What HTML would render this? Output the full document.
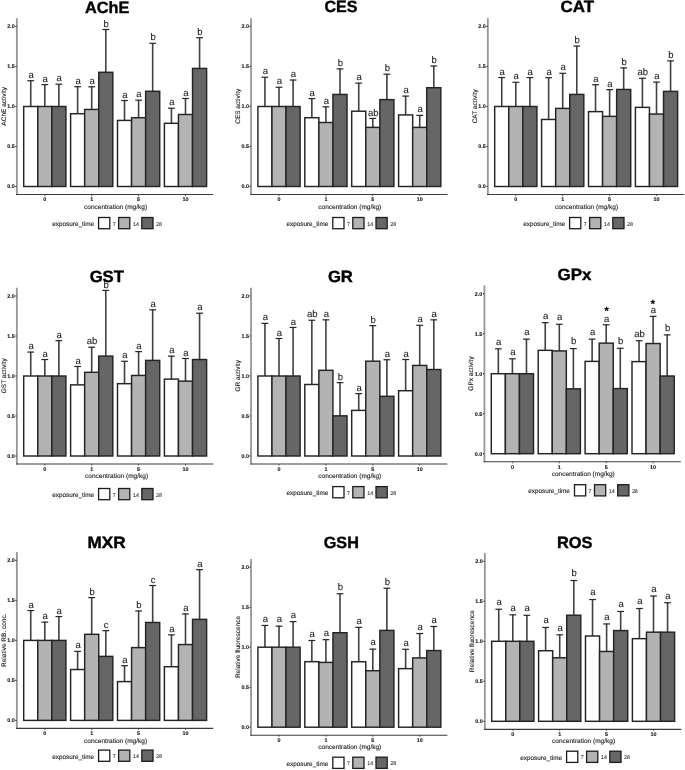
<!DOCTYPE html>
<html><head><meta charset="utf-8"><title>Biomarker activity charts</title>
<style>
html,body{margin:0;padding:0;background:#fff;}
body{width:685px;height:770px;overflow:hidden;}
svg{display:block;font-family:"Liberation Sans", sans-serif;filter:blur(0.3px);text-rendering:geometricPrecision;}
</style></head><body>
<svg width="685" height="770" viewBox="0 0 685 770">
<rect width="685" height="770" fill="#fff"/>
<g>
<text x="107.1" y="12.5" text-anchor="middle" font-size="16.3" font-weight="bold" fill="#000" stroke="#000" stroke-width="0.4" textLength="44.3" lengthAdjust="spacingAndGlyphs">AChE</text>
<path d="M16.85 18.2V195" fill="none" stroke="#969696" stroke-width="1.8"/>
<path d="M16 194.5H213.2" fill="none" stroke="#3c3c3c" stroke-width="1.15"/>
<path d="M15.4 186.5H16.5" stroke="#111" stroke-width="1.1"/>
<text x="14.7" y="188.45" text-anchor="end" font-size="5.4" font-weight="bold" fill="#111" stroke="#111" stroke-width="0.1">0.0</text>
<path d="M15.4 146.5H16.5" stroke="#111" stroke-width="1.1"/>
<text x="14.7" y="148.45" text-anchor="end" font-size="5.4" font-weight="bold" fill="#111" stroke="#111" stroke-width="0.1">0.5</text>
<path d="M15.4 106.5H16.5" stroke="#111" stroke-width="1.1"/>
<text x="14.7" y="108.45" text-anchor="end" font-size="5.4" font-weight="bold" fill="#111" stroke="#111" stroke-width="0.1">1.0</text>
<path d="M15.4 66.5H16.5" stroke="#111" stroke-width="1.1"/>
<text x="14.7" y="68.45" text-anchor="end" font-size="5.4" font-weight="bold" fill="#111" stroke="#111" stroke-width="0.1">1.5</text>
<path d="M15.4 26.5H16.5" stroke="#111" stroke-width="1.1"/>
<text x="14.7" y="28.45" text-anchor="end" font-size="5.4" font-weight="bold" fill="#111" stroke="#111" stroke-width="0.1">2.0</text>
<text transform="translate(5.7 106.3) rotate(-90)" text-anchor="middle" font-size="6.5" fill="#222" stroke="#222" stroke-width="0.12">AChE activity</text>
<path d="M30.74 106.5V80.4" stroke="#404040" stroke-width="1.6" fill="none"/><path d="M27.34 80.7H34.14" stroke="#262626" stroke-width="1.2" fill="none"/>
<rect x="23.7" y="106.5" width="14.07" height="80" fill="#ffffff" stroke="#242424" stroke-width="1.45"/>
<text x="31.14" y="77.8" text-anchor="middle" font-size="9.5" fill="#1a1a1a" stroke="#1a1a1a" stroke-width="0.1">a</text>
<path d="M44.81 106.5V84.28" stroke="#404040" stroke-width="1.6" fill="none"/><path d="M41.41 84.58H48.21" stroke="#262626" stroke-width="1.2" fill="none"/>
<rect x="37.77" y="106.5" width="14.07" height="80" fill="#b3b3b3" stroke="#242424" stroke-width="1.45"/>
<text x="45.21" y="81.68" text-anchor="middle" font-size="9.5" fill="#1a1a1a" stroke="#1a1a1a" stroke-width="0.1">a</text>
<path d="M58.88 106.5V83.88" stroke="#404040" stroke-width="1.6" fill="none"/><path d="M55.48 84.18H62.27" stroke="#262626" stroke-width="1.2" fill="none"/>
<rect x="51.84" y="106.5" width="14.07" height="80" fill="#666666" stroke="#242424" stroke-width="1.45"/>
<text x="59.27" y="81.28" text-anchor="middle" font-size="9.5" fill="#1a1a1a" stroke="#1a1a1a" stroke-width="0.1">a</text>
<path d="M77.63 113.7V86.4" stroke="#404040" stroke-width="1.6" fill="none"/><path d="M74.23 86.7H81.03" stroke="#262626" stroke-width="1.2" fill="none"/>
<rect x="70.6" y="113.7" width="14.07" height="72.8" fill="#ffffff" stroke="#242424" stroke-width="1.45"/>
<text x="78.03" y="83.8" text-anchor="middle" font-size="9.5" fill="#1a1a1a" stroke="#1a1a1a" stroke-width="0.1">a</text>
<path d="M91.7 109.46V86.52" stroke="#404040" stroke-width="1.6" fill="none"/><path d="M88.3 86.82H95.1" stroke="#262626" stroke-width="1.2" fill="none"/>
<rect x="84.67" y="109.46" width="14.07" height="77.04" fill="#b3b3b3" stroke="#242424" stroke-width="1.45"/>
<text x="92.1" y="83.92" text-anchor="middle" font-size="9.5" fill="#1a1a1a" stroke="#1a1a1a" stroke-width="0.1">a</text>
<path d="M105.77 72.3V29.2" stroke="#404040" stroke-width="1.6" fill="none"/><path d="M102.37 29.5H109.17" stroke="#262626" stroke-width="1.2" fill="none"/>
<rect x="98.74" y="72.3" width="14.07" height="114.2" fill="#666666" stroke="#242424" stroke-width="1.45"/>
<text x="106.17" y="26.6" text-anchor="middle" font-size="9.5" fill="#1a1a1a" stroke="#1a1a1a" stroke-width="0.1">b</text>
<path d="M124.53 120.42V100.2" stroke="#404040" stroke-width="1.6" fill="none"/><path d="M121.13 100.5H127.94" stroke="#262626" stroke-width="1.2" fill="none"/>
<rect x="117.5" y="120.42" width="14.07" height="66.08" fill="#ffffff" stroke="#242424" stroke-width="1.45"/>
<text x="124.94" y="97.6" text-anchor="middle" font-size="9.5" fill="#1a1a1a" stroke="#1a1a1a" stroke-width="0.1">a</text>
<path d="M138.6 117.7V99.88" stroke="#404040" stroke-width="1.6" fill="none"/><path d="M135.2 100.18H142" stroke="#262626" stroke-width="1.2" fill="none"/>
<rect x="131.57" y="117.7" width="14.07" height="68.8" fill="#b3b3b3" stroke="#242424" stroke-width="1.45"/>
<text x="139" y="97.28" text-anchor="middle" font-size="9.5" fill="#1a1a1a" stroke="#1a1a1a" stroke-width="0.1">a</text>
<path d="M152.67 91.3V43" stroke="#404040" stroke-width="1.6" fill="none"/><path d="M149.27 43.3H156.07" stroke="#262626" stroke-width="1.2" fill="none"/>
<rect x="145.64" y="91.3" width="14.07" height="95.2" fill="#666666" stroke="#242424" stroke-width="1.45"/>
<text x="153.07" y="40.4" text-anchor="middle" font-size="9.5" fill="#1a1a1a" stroke="#1a1a1a" stroke-width="0.1">b</text>
<path d="M171.43 123.3V107.96" stroke="#404040" stroke-width="1.6" fill="none"/><path d="M168.03 108.26H174.83" stroke="#262626" stroke-width="1.2" fill="none"/>
<rect x="164.4" y="123.3" width="14.07" height="63.2" fill="#ffffff" stroke="#242424" stroke-width="1.45"/>
<text x="171.83" y="105.36" text-anchor="middle" font-size="9.5" fill="#1a1a1a" stroke="#1a1a1a" stroke-width="0.1">a</text>
<path d="M185.5 114.5V98.2" stroke="#404040" stroke-width="1.6" fill="none"/><path d="M182.1 98.5H188.9" stroke="#262626" stroke-width="1.2" fill="none"/>
<rect x="178.47" y="114.5" width="14.07" height="72" fill="#b3b3b3" stroke="#242424" stroke-width="1.45"/>
<text x="185.9" y="95.6" text-anchor="middle" font-size="9.5" fill="#1a1a1a" stroke="#1a1a1a" stroke-width="0.1">a</text>
<path d="M199.57 68.42V37.4" stroke="#404040" stroke-width="1.6" fill="none"/><path d="M196.17 37.7H202.97" stroke="#262626" stroke-width="1.2" fill="none"/>
<rect x="192.54" y="68.42" width="14.07" height="118.08" fill="#666666" stroke="#242424" stroke-width="1.45"/>
<text x="199.97" y="34.8" text-anchor="middle" font-size="9.5" fill="#1a1a1a" stroke="#1a1a1a" stroke-width="0.1">b</text>
<path d="M44.81 194.5V196.1" stroke="#222" stroke-width="0.7"/>
<text x="44.81" y="201.4" text-anchor="middle" font-size="5.4" font-weight="bold" fill="#111" stroke="#111" stroke-width="0.1">0</text>
<path d="M91.7 194.5V196.1" stroke="#222" stroke-width="0.7"/>
<text x="91.7" y="201.4" text-anchor="middle" font-size="5.4" font-weight="bold" fill="#111" stroke="#111" stroke-width="0.1">1</text>
<path d="M138.6 194.5V196.1" stroke="#222" stroke-width="0.7"/>
<text x="138.6" y="201.4" text-anchor="middle" font-size="5.4" font-weight="bold" fill="#111" stroke="#111" stroke-width="0.1">5</text>
<path d="M185.5 194.5V196.1" stroke="#222" stroke-width="0.7"/>
<text x="185.5" y="201.4" text-anchor="middle" font-size="5.4" font-weight="bold" fill="#111" stroke="#111" stroke-width="0.1">10</text>
<text x="115.6" y="209" text-anchor="middle" font-size="6.52" fill="#222" stroke="#222" stroke-width="0.12">concentration (mg/kg)</text>
<text x="52.3" y="226" font-size="6.36" fill="#222" stroke="#222" stroke-width="0.12">exposure_time</text>
<rect x="98.6" y="217.5" width="11.2" height="11.2" fill="#ffffff" stroke="#1c1c1c" stroke-width="1.3"/>
<text x="112.7" y="225.5" font-size="5.3" fill="#333" stroke="#333" stroke-width="0.08">7</text>
<rect x="118.6" y="217.5" width="11.2" height="11.2" fill="#b3b3b3" stroke="#1c1c1c" stroke-width="1.3"/>
<text x="133" y="225.5" font-size="5.3" fill="#333" stroke="#333" stroke-width="0.08">14</text>
<rect x="141.8" y="217.5" width="11.2" height="11.2" fill="#666666" stroke="#1c1c1c" stroke-width="1.3"/>
<text x="156" y="225.5" font-size="5.3" fill="#333" stroke="#333" stroke-width="0.08">28</text>
</g>
<g>
<text x="341" y="12.2" text-anchor="middle" font-size="16.3" font-weight="bold" fill="#000" stroke="#000" stroke-width="0.4" textLength="33" lengthAdjust="spacingAndGlyphs">CES</text>
<path d="M251.05 18.2V195" fill="none" stroke="#969696" stroke-width="1.8"/>
<path d="M250.2 194.5H447.4" fill="none" stroke="#3c3c3c" stroke-width="1.15"/>
<path d="M249.6 186.5H250.7" stroke="#111" stroke-width="1.1"/>
<text x="248.9" y="188.45" text-anchor="end" font-size="5.4" font-weight="bold" fill="#111" stroke="#111" stroke-width="0.1">0.0</text>
<path d="M249.6 146.5H250.7" stroke="#111" stroke-width="1.1"/>
<text x="248.9" y="148.45" text-anchor="end" font-size="5.4" font-weight="bold" fill="#111" stroke="#111" stroke-width="0.1">0.5</text>
<path d="M249.6 106.5H250.7" stroke="#111" stroke-width="1.1"/>
<text x="248.9" y="108.45" text-anchor="end" font-size="5.4" font-weight="bold" fill="#111" stroke="#111" stroke-width="0.1">1.0</text>
<path d="M249.6 66.5H250.7" stroke="#111" stroke-width="1.1"/>
<text x="248.9" y="68.45" text-anchor="end" font-size="5.4" font-weight="bold" fill="#111" stroke="#111" stroke-width="0.1">1.5</text>
<path d="M249.6 26.5H250.7" stroke="#111" stroke-width="1.1"/>
<text x="248.9" y="28.45" text-anchor="end" font-size="5.4" font-weight="bold" fill="#111" stroke="#111" stroke-width="0.1">2.0</text>
<text transform="translate(239.9 106.3) rotate(-90)" text-anchor="middle" font-size="6.5" fill="#222" stroke="#222" stroke-width="0.12">CES activity</text>
<path d="M264.94 106.5V76.92" stroke="#404040" stroke-width="1.6" fill="none"/><path d="M261.54 77.22H268.34" stroke="#262626" stroke-width="1.2" fill="none"/>
<rect x="257.9" y="106.5" width="14.07" height="80" fill="#ffffff" stroke="#242424" stroke-width="1.45"/>
<text x="265.34" y="74.32" text-anchor="middle" font-size="9.5" fill="#1a1a1a" stroke="#1a1a1a" stroke-width="0.1">a</text>
<path d="M279.01 106.5V86.92" stroke="#404040" stroke-width="1.6" fill="none"/><path d="M275.61 87.22H282.41" stroke="#262626" stroke-width="1.2" fill="none"/>
<rect x="271.97" y="106.5" width="14.07" height="80" fill="#b3b3b3" stroke="#242424" stroke-width="1.45"/>
<text x="279.41" y="84.32" text-anchor="middle" font-size="9.5" fill="#1a1a1a" stroke="#1a1a1a" stroke-width="0.1">a</text>
<path d="M293.08 106.5V79.72" stroke="#404040" stroke-width="1.6" fill="none"/><path d="M289.68 80.02H296.48" stroke="#262626" stroke-width="1.2" fill="none"/>
<rect x="286.04" y="106.5" width="14.07" height="80" fill="#666666" stroke="#242424" stroke-width="1.45"/>
<text x="293.48" y="77.12" text-anchor="middle" font-size="9.5" fill="#1a1a1a" stroke="#1a1a1a" stroke-width="0.1">a</text>
<path d="M311.84 117.7V98.28" stroke="#404040" stroke-width="1.6" fill="none"/><path d="M308.44 98.58H315.24" stroke="#262626" stroke-width="1.2" fill="none"/>
<rect x="304.8" y="117.7" width="14.07" height="68.8" fill="#ffffff" stroke="#242424" stroke-width="1.45"/>
<text x="312.24" y="95.68" text-anchor="middle" font-size="9.5" fill="#1a1a1a" stroke="#1a1a1a" stroke-width="0.1">a</text>
<path d="M325.91 122.5V106.52" stroke="#404040" stroke-width="1.6" fill="none"/><path d="M322.51 106.82H329.31" stroke="#262626" stroke-width="1.2" fill="none"/>
<rect x="318.87" y="122.5" width="14.07" height="64" fill="#b3b3b3" stroke="#242424" stroke-width="1.45"/>
<text x="326.31" y="103.92" text-anchor="middle" font-size="9.5" fill="#1a1a1a" stroke="#1a1a1a" stroke-width="0.1">a</text>
<path d="M339.98 94.42V68.6" stroke="#404040" stroke-width="1.6" fill="none"/><path d="M336.58 68.9H343.38" stroke="#262626" stroke-width="1.2" fill="none"/>
<rect x="332.94" y="94.42" width="14.07" height="92.08" fill="#666666" stroke="#242424" stroke-width="1.45"/>
<text x="340.38" y="66" text-anchor="middle" font-size="9.5" fill="#1a1a1a" stroke="#1a1a1a" stroke-width="0.1">b</text>
<path d="M358.74 111.22V82.84" stroke="#404040" stroke-width="1.6" fill="none"/><path d="M355.34 83.14H362.14" stroke="#262626" stroke-width="1.2" fill="none"/>
<rect x="351.7" y="111.22" width="14.07" height="75.28" fill="#ffffff" stroke="#242424" stroke-width="1.45"/>
<text x="359.14" y="80.24" text-anchor="middle" font-size="9.5" fill="#1a1a1a" stroke="#1a1a1a" stroke-width="0.1">a</text>
<path d="M372.81 127.38V118.12" stroke="#404040" stroke-width="1.6" fill="none"/><path d="M369.41 118.42H376.21" stroke="#262626" stroke-width="1.2" fill="none"/>
<rect x="365.77" y="127.38" width="14.07" height="59.12" fill="#b3b3b3" stroke="#242424" stroke-width="1.45"/>
<text x="373.21" y="115.52" text-anchor="middle" font-size="9.5" fill="#1a1a1a" stroke="#1a1a1a" stroke-width="0.1">ab</text>
<path d="M386.88 99.62V73.88" stroke="#404040" stroke-width="1.6" fill="none"/><path d="M383.48 74.18H390.28" stroke="#262626" stroke-width="1.2" fill="none"/>
<rect x="379.84" y="99.62" width="14.07" height="86.88" fill="#666666" stroke="#242424" stroke-width="1.45"/>
<text x="387.28" y="71.28" text-anchor="middle" font-size="9.5" fill="#1a1a1a" stroke="#1a1a1a" stroke-width="0.1">b</text>
<path d="M405.64 114.9V95.8" stroke="#404040" stroke-width="1.6" fill="none"/><path d="M402.24 96.1H409.04" stroke="#262626" stroke-width="1.2" fill="none"/>
<rect x="398.6" y="114.9" width="14.07" height="71.6" fill="#ffffff" stroke="#242424" stroke-width="1.45"/>
<text x="406.04" y="93.2" text-anchor="middle" font-size="9.5" fill="#1a1a1a" stroke="#1a1a1a" stroke-width="0.1">a</text>
<path d="M419.71 127.38V115.08" stroke="#404040" stroke-width="1.6" fill="none"/><path d="M416.31 115.38H423.11" stroke="#262626" stroke-width="1.2" fill="none"/>
<rect x="412.67" y="127.38" width="14.07" height="59.12" fill="#b3b3b3" stroke="#242424" stroke-width="1.45"/>
<text x="420.11" y="112.48" text-anchor="middle" font-size="9.5" fill="#1a1a1a" stroke="#1a1a1a" stroke-width="0.1">a</text>
<path d="M433.78 87.7V65.72" stroke="#404040" stroke-width="1.6" fill="none"/><path d="M430.38 66.02H437.18" stroke="#262626" stroke-width="1.2" fill="none"/>
<rect x="426.74" y="87.7" width="14.07" height="98.8" fill="#666666" stroke="#242424" stroke-width="1.45"/>
<text x="434.18" y="63.12" text-anchor="middle" font-size="9.5" fill="#1a1a1a" stroke="#1a1a1a" stroke-width="0.1">b</text>
<path d="M279.01 194.5V196.1" stroke="#222" stroke-width="0.7"/>
<text x="279.01" y="201.4" text-anchor="middle" font-size="5.4" font-weight="bold" fill="#111" stroke="#111" stroke-width="0.1">0</text>
<path d="M325.91 194.5V196.1" stroke="#222" stroke-width="0.7"/>
<text x="325.91" y="201.4" text-anchor="middle" font-size="5.4" font-weight="bold" fill="#111" stroke="#111" stroke-width="0.1">1</text>
<path d="M372.81 194.5V196.1" stroke="#222" stroke-width="0.7"/>
<text x="372.81" y="201.4" text-anchor="middle" font-size="5.4" font-weight="bold" fill="#111" stroke="#111" stroke-width="0.1">5</text>
<path d="M419.71 194.5V196.1" stroke="#222" stroke-width="0.7"/>
<text x="419.71" y="201.4" text-anchor="middle" font-size="5.4" font-weight="bold" fill="#111" stroke="#111" stroke-width="0.1">10</text>
<text x="349.8" y="209" text-anchor="middle" font-size="6.52" fill="#222" stroke="#222" stroke-width="0.12">concentration (mg/kg)</text>
<text x="286.5" y="226" font-size="6.36" fill="#222" stroke="#222" stroke-width="0.12">exposure_time</text>
<rect x="332.8" y="217.5" width="11.2" height="11.2" fill="#ffffff" stroke="#1c1c1c" stroke-width="1.3"/>
<text x="346.9" y="225.5" font-size="5.3" fill="#333" stroke="#333" stroke-width="0.08">7</text>
<rect x="352.8" y="217.5" width="11.2" height="11.2" fill="#b3b3b3" stroke="#1c1c1c" stroke-width="1.3"/>
<text x="367.2" y="225.5" font-size="5.3" fill="#333" stroke="#333" stroke-width="0.08">14</text>
<rect x="376" y="217.5" width="11.2" height="11.2" fill="#666666" stroke="#1c1c1c" stroke-width="1.3"/>
<text x="390.2" y="225.5" font-size="5.3" fill="#333" stroke="#333" stroke-width="0.08">28</text>
</g>
<g>
<text x="577.3" y="12.1" text-anchor="middle" font-size="16.3" font-weight="bold" fill="#000" stroke="#000" stroke-width="0.4" textLength="33.6" lengthAdjust="spacingAndGlyphs">CAT</text>
<path d="M487.85 18.2V195" fill="none" stroke="#969696" stroke-width="1.8"/>
<path d="M487 194.5H684.2" fill="none" stroke="#3c3c3c" stroke-width="1.15"/>
<path d="M486.4 186.5H487.5" stroke="#111" stroke-width="1.1"/>
<text x="485.7" y="188.45" text-anchor="end" font-size="5.4" font-weight="bold" fill="#111" stroke="#111" stroke-width="0.1">0.0</text>
<path d="M486.4 146.5H487.5" stroke="#111" stroke-width="1.1"/>
<text x="485.7" y="148.45" text-anchor="end" font-size="5.4" font-weight="bold" fill="#111" stroke="#111" stroke-width="0.1">0.5</text>
<path d="M486.4 106.5H487.5" stroke="#111" stroke-width="1.1"/>
<text x="485.7" y="108.45" text-anchor="end" font-size="5.4" font-weight="bold" fill="#111" stroke="#111" stroke-width="0.1">1.0</text>
<path d="M486.4 66.5H487.5" stroke="#111" stroke-width="1.1"/>
<text x="485.7" y="68.45" text-anchor="end" font-size="5.4" font-weight="bold" fill="#111" stroke="#111" stroke-width="0.1">1.5</text>
<path d="M486.4 26.5H487.5" stroke="#111" stroke-width="1.1"/>
<text x="485.7" y="28.45" text-anchor="end" font-size="5.4" font-weight="bold" fill="#111" stroke="#111" stroke-width="0.1">2.0</text>
<text transform="translate(476.7 106.3) rotate(-90)" text-anchor="middle" font-size="6.5" fill="#222" stroke="#222" stroke-width="0.12">CAT activity</text>
<path d="M501.74 106.5V77.24" stroke="#404040" stroke-width="1.6" fill="none"/><path d="M498.34 77.54H505.14" stroke="#262626" stroke-width="1.2" fill="none"/>
<rect x="494.7" y="106.5" width="14.07" height="80" fill="#ffffff" stroke="#242424" stroke-width="1.45"/>
<text x="502.14" y="74.64" text-anchor="middle" font-size="9.5" fill="#1a1a1a" stroke="#1a1a1a" stroke-width="0.1">a</text>
<path d="M515.81 106.5V81.96" stroke="#404040" stroke-width="1.6" fill="none"/><path d="M512.41 82.26H519.21" stroke="#262626" stroke-width="1.2" fill="none"/>
<rect x="508.77" y="106.5" width="14.07" height="80" fill="#b3b3b3" stroke="#242424" stroke-width="1.45"/>
<text x="516.21" y="79.36" text-anchor="middle" font-size="9.5" fill="#1a1a1a" stroke="#1a1a1a" stroke-width="0.1">a</text>
<path d="M529.88 106.5V77.24" stroke="#404040" stroke-width="1.6" fill="none"/><path d="M526.48 77.54H533.27" stroke="#262626" stroke-width="1.2" fill="none"/>
<rect x="522.84" y="106.5" width="14.07" height="80" fill="#666666" stroke="#242424" stroke-width="1.45"/>
<text x="530.27" y="74.64" text-anchor="middle" font-size="9.5" fill="#1a1a1a" stroke="#1a1a1a" stroke-width="0.1">a</text>
<path d="M548.63 119.46V77.4" stroke="#404040" stroke-width="1.6" fill="none"/><path d="M545.24 77.7H552.03" stroke="#262626" stroke-width="1.2" fill="none"/>
<rect x="541.6" y="119.46" width="14.07" height="67.04" fill="#ffffff" stroke="#242424" stroke-width="1.45"/>
<text x="549.03" y="74.8" text-anchor="middle" font-size="9.5" fill="#1a1a1a" stroke="#1a1a1a" stroke-width="0.1">a</text>
<path d="M562.71 108.42V73" stroke="#404040" stroke-width="1.6" fill="none"/><path d="M559.31 73.3H566.11" stroke="#262626" stroke-width="1.2" fill="none"/>
<rect x="555.67" y="108.42" width="14.07" height="78.08" fill="#b3b3b3" stroke="#242424" stroke-width="1.45"/>
<text x="563.11" y="70.4" text-anchor="middle" font-size="9.5" fill="#1a1a1a" stroke="#1a1a1a" stroke-width="0.1">a</text>
<path d="M576.77 94.42V45.8" stroke="#404040" stroke-width="1.6" fill="none"/><path d="M573.38 46.1H580.17" stroke="#262626" stroke-width="1.2" fill="none"/>
<rect x="569.74" y="94.42" width="14.07" height="92.08" fill="#666666" stroke="#242424" stroke-width="1.45"/>
<text x="577.17" y="43.2" text-anchor="middle" font-size="9.5" fill="#1a1a1a" stroke="#1a1a1a" stroke-width="0.1">b</text>
<path d="M595.53 111.62V84.44" stroke="#404040" stroke-width="1.6" fill="none"/><path d="M592.13 84.74H598.93" stroke="#262626" stroke-width="1.2" fill="none"/>
<rect x="588.5" y="111.62" width="14.07" height="74.88" fill="#ffffff" stroke="#242424" stroke-width="1.45"/>
<text x="595.93" y="81.84" text-anchor="middle" font-size="9.5" fill="#1a1a1a" stroke="#1a1a1a" stroke-width="0.1">a</text>
<path d="M609.61 116.34V89.32" stroke="#404040" stroke-width="1.6" fill="none"/><path d="M606.21 89.62H613" stroke="#262626" stroke-width="1.2" fill="none"/>
<rect x="602.57" y="116.34" width="14.07" height="70.16" fill="#b3b3b3" stroke="#242424" stroke-width="1.45"/>
<text x="610" y="86.72" text-anchor="middle" font-size="9.5" fill="#1a1a1a" stroke="#1a1a1a" stroke-width="0.1">a</text>
<path d="M623.67 89.46V67.56" stroke="#404040" stroke-width="1.6" fill="none"/><path d="M620.27 67.86H627.07" stroke="#262626" stroke-width="1.2" fill="none"/>
<rect x="616.64" y="89.46" width="14.07" height="97.04" fill="#666666" stroke="#242424" stroke-width="1.45"/>
<text x="624.07" y="64.96" text-anchor="middle" font-size="9.5" fill="#1a1a1a" stroke="#1a1a1a" stroke-width="0.1">b</text>
<path d="M642.44 107.38V77.96" stroke="#404040" stroke-width="1.6" fill="none"/><path d="M639.04 78.26H645.84" stroke="#262626" stroke-width="1.2" fill="none"/>
<rect x="635.4" y="107.38" width="14.07" height="79.12" fill="#ffffff" stroke="#242424" stroke-width="1.45"/>
<text x="642.84" y="75.36" text-anchor="middle" font-size="9.5" fill="#1a1a1a" stroke="#1a1a1a" stroke-width="0.1">ab</text>
<path d="M656.51 114.02V81.8" stroke="#404040" stroke-width="1.6" fill="none"/><path d="M653.11 82.1H659.91" stroke="#262626" stroke-width="1.2" fill="none"/>
<rect x="649.47" y="114.02" width="14.07" height="72.48" fill="#b3b3b3" stroke="#242424" stroke-width="1.45"/>
<text x="656.91" y="79.2" text-anchor="middle" font-size="9.5" fill="#1a1a1a" stroke="#1a1a1a" stroke-width="0.1">a</text>
<path d="M670.58 91.38V60.6" stroke="#404040" stroke-width="1.6" fill="none"/><path d="M667.18 60.9H673.98" stroke="#262626" stroke-width="1.2" fill="none"/>
<rect x="663.54" y="91.38" width="14.07" height="95.12" fill="#666666" stroke="#242424" stroke-width="1.45"/>
<text x="670.98" y="58" text-anchor="middle" font-size="9.5" fill="#1a1a1a" stroke="#1a1a1a" stroke-width="0.1">b</text>
<path d="M515.81 194.5V196.1" stroke="#222" stroke-width="0.7"/>
<text x="515.81" y="201.4" text-anchor="middle" font-size="5.4" font-weight="bold" fill="#111" stroke="#111" stroke-width="0.1">0</text>
<path d="M562.71 194.5V196.1" stroke="#222" stroke-width="0.7"/>
<text x="562.71" y="201.4" text-anchor="middle" font-size="5.4" font-weight="bold" fill="#111" stroke="#111" stroke-width="0.1">1</text>
<path d="M609.61 194.5V196.1" stroke="#222" stroke-width="0.7"/>
<text x="609.61" y="201.4" text-anchor="middle" font-size="5.4" font-weight="bold" fill="#111" stroke="#111" stroke-width="0.1">5</text>
<path d="M656.51 194.5V196.1" stroke="#222" stroke-width="0.7"/>
<text x="656.51" y="201.4" text-anchor="middle" font-size="5.4" font-weight="bold" fill="#111" stroke="#111" stroke-width="0.1">10</text>
<text x="586.6" y="209" text-anchor="middle" font-size="6.52" fill="#222" stroke="#222" stroke-width="0.12">concentration (mg/kg)</text>
<text x="523.3" y="226" font-size="6.36" fill="#222" stroke="#222" stroke-width="0.12">exposure_time</text>
<rect x="569.6" y="217.5" width="11.2" height="11.2" fill="#ffffff" stroke="#1c1c1c" stroke-width="1.3"/>
<text x="583.7" y="225.5" font-size="5.3" fill="#333" stroke="#333" stroke-width="0.08">7</text>
<rect x="589.6" y="217.5" width="11.2" height="11.2" fill="#b3b3b3" stroke="#1c1c1c" stroke-width="1.3"/>
<text x="604" y="225.5" font-size="5.3" fill="#333" stroke="#333" stroke-width="0.08">14</text>
<rect x="612.8" y="217.5" width="11.2" height="11.2" fill="#666666" stroke="#1c1c1c" stroke-width="1.3"/>
<text x="627" y="225.5" font-size="5.3" fill="#333" stroke="#333" stroke-width="0.08">28</text>
</g>
<g>
<text x="106.8" y="281.8" text-anchor="middle" font-size="16.3" font-weight="bold" fill="#000" stroke="#000" stroke-width="0.4" textLength="34.3" lengthAdjust="spacingAndGlyphs">GST</text>
<path d="M16.85 287.7V464.5" fill="none" stroke="#969696" stroke-width="1.8"/>
<path d="M16 464H213.2" fill="none" stroke="#3c3c3c" stroke-width="1.15"/>
<path d="M15.4 456H16.5" stroke="#111" stroke-width="1.1"/>
<text x="14.7" y="457.95" text-anchor="end" font-size="5.4" font-weight="bold" fill="#111" stroke="#111" stroke-width="0.1">0.0</text>
<path d="M15.4 416H16.5" stroke="#111" stroke-width="1.1"/>
<text x="14.7" y="417.95" text-anchor="end" font-size="5.4" font-weight="bold" fill="#111" stroke="#111" stroke-width="0.1">0.5</text>
<path d="M15.4 376H16.5" stroke="#111" stroke-width="1.1"/>
<text x="14.7" y="377.95" text-anchor="end" font-size="5.4" font-weight="bold" fill="#111" stroke="#111" stroke-width="0.1">1.0</text>
<path d="M15.4 336H16.5" stroke="#111" stroke-width="1.1"/>
<text x="14.7" y="337.95" text-anchor="end" font-size="5.4" font-weight="bold" fill="#111" stroke="#111" stroke-width="0.1">1.5</text>
<path d="M15.4 296H16.5" stroke="#111" stroke-width="1.1"/>
<text x="14.7" y="297.95" text-anchor="end" font-size="5.4" font-weight="bold" fill="#111" stroke="#111" stroke-width="0.1">2.0</text>
<text transform="translate(5.7 375.8) rotate(-90)" text-anchor="middle" font-size="6.5" fill="#222" stroke="#222" stroke-width="0.12">GST activity</text>
<path d="M30.74 376V351.78" stroke="#404040" stroke-width="1.6" fill="none"/><path d="M27.34 352.08H34.14" stroke="#262626" stroke-width="1.2" fill="none"/>
<rect x="23.7" y="376" width="14.07" height="80" fill="#ffffff" stroke="#242424" stroke-width="1.45"/>
<text x="31.14" y="349.18" text-anchor="middle" font-size="9.5" fill="#1a1a1a" stroke="#1a1a1a" stroke-width="0.1">a</text>
<path d="M44.81 376V359.22" stroke="#404040" stroke-width="1.6" fill="none"/><path d="M41.41 359.52H48.21" stroke="#262626" stroke-width="1.2" fill="none"/>
<rect x="37.77" y="376" width="14.07" height="80" fill="#b3b3b3" stroke="#242424" stroke-width="1.45"/>
<text x="45.21" y="356.62" text-anchor="middle" font-size="9.5" fill="#1a1a1a" stroke="#1a1a1a" stroke-width="0.1">a</text>
<path d="M58.88 376V340.42" stroke="#404040" stroke-width="1.6" fill="none"/><path d="M55.48 340.72H62.27" stroke="#262626" stroke-width="1.2" fill="none"/>
<rect x="51.84" y="376" width="14.07" height="80" fill="#666666" stroke="#242424" stroke-width="1.45"/>
<text x="59.27" y="337.82" text-anchor="middle" font-size="9.5" fill="#1a1a1a" stroke="#1a1a1a" stroke-width="0.1">a</text>
<path d="M77.63 384.88V366.18" stroke="#404040" stroke-width="1.6" fill="none"/><path d="M74.23 366.48H81.03" stroke="#262626" stroke-width="1.2" fill="none"/>
<rect x="70.6" y="384.88" width="14.07" height="71.12" fill="#ffffff" stroke="#242424" stroke-width="1.45"/>
<text x="78.03" y="363.58" text-anchor="middle" font-size="9.5" fill="#1a1a1a" stroke="#1a1a1a" stroke-width="0.1">a</text>
<path d="M91.7 372.32V346.9" stroke="#404040" stroke-width="1.6" fill="none"/><path d="M88.3 347.2H95.1" stroke="#262626" stroke-width="1.2" fill="none"/>
<rect x="84.67" y="372.32" width="14.07" height="83.68" fill="#b3b3b3" stroke="#242424" stroke-width="1.45"/>
<text x="92.1" y="344.3" text-anchor="middle" font-size="9.5" fill="#1a1a1a" stroke="#1a1a1a" stroke-width="0.1">ab</text>
<path d="M105.77 356.08V290.1" stroke="#404040" stroke-width="1.6" fill="none"/><path d="M102.37 290.4H109.17" stroke="#262626" stroke-width="1.2" fill="none"/>
<rect x="98.74" y="356.08" width="14.07" height="99.92" fill="#666666" stroke="#242424" stroke-width="1.45"/>
<text x="106.17" y="287.5" text-anchor="middle" font-size="9.5" fill="#1a1a1a" stroke="#1a1a1a" stroke-width="0.1">b</text>
<path d="M124.53 383.68V360.98" stroke="#404040" stroke-width="1.6" fill="none"/><path d="M121.13 361.28H127.94" stroke="#262626" stroke-width="1.2" fill="none"/>
<rect x="117.5" y="383.68" width="14.07" height="72.32" fill="#ffffff" stroke="#242424" stroke-width="1.45"/>
<text x="124.94" y="358.38" text-anchor="middle" font-size="9.5" fill="#1a1a1a" stroke="#1a1a1a" stroke-width="0.1">a</text>
<path d="M138.6 375.44V351.3" stroke="#404040" stroke-width="1.6" fill="none"/><path d="M135.2 351.6H142" stroke="#262626" stroke-width="1.2" fill="none"/>
<rect x="131.57" y="375.44" width="14.07" height="80.56" fill="#b3b3b3" stroke="#242424" stroke-width="1.45"/>
<text x="139" y="348.7" text-anchor="middle" font-size="9.5" fill="#1a1a1a" stroke="#1a1a1a" stroke-width="0.1">a</text>
<path d="M152.67 360.4V309.54" stroke="#404040" stroke-width="1.6" fill="none"/><path d="M149.27 309.84H156.07" stroke="#262626" stroke-width="1.2" fill="none"/>
<rect x="145.64" y="360.4" width="14.07" height="95.6" fill="#666666" stroke="#242424" stroke-width="1.45"/>
<text x="153.07" y="306.94" text-anchor="middle" font-size="9.5" fill="#1a1a1a" stroke="#1a1a1a" stroke-width="0.1">a</text>
<path d="M171.43 379.12V355.86" stroke="#404040" stroke-width="1.6" fill="none"/><path d="M168.03 356.16H174.83" stroke="#262626" stroke-width="1.2" fill="none"/>
<rect x="164.4" y="379.12" width="14.07" height="76.88" fill="#ffffff" stroke="#242424" stroke-width="1.45"/>
<text x="171.83" y="353.26" text-anchor="middle" font-size="9.5" fill="#1a1a1a" stroke="#1a1a1a" stroke-width="0.1">a</text>
<path d="M185.5 381.12V358.18" stroke="#404040" stroke-width="1.6" fill="none"/><path d="M182.1 358.48H188.9" stroke="#262626" stroke-width="1.2" fill="none"/>
<rect x="178.47" y="381.12" width="14.07" height="74.88" fill="#b3b3b3" stroke="#242424" stroke-width="1.45"/>
<text x="185.9" y="355.58" text-anchor="middle" font-size="9.5" fill="#1a1a1a" stroke="#1a1a1a" stroke-width="0.1">a</text>
<path d="M199.57 359.52V312.9" stroke="#404040" stroke-width="1.6" fill="none"/><path d="M196.17 313.2H202.97" stroke="#262626" stroke-width="1.2" fill="none"/>
<rect x="192.54" y="359.52" width="14.07" height="96.48" fill="#666666" stroke="#242424" stroke-width="1.45"/>
<text x="199.97" y="310.3" text-anchor="middle" font-size="9.5" fill="#1a1a1a" stroke="#1a1a1a" stroke-width="0.1">a</text>
<path d="M44.81 464V465.6" stroke="#222" stroke-width="0.7"/>
<text x="44.81" y="470.9" text-anchor="middle" font-size="5.4" font-weight="bold" fill="#111" stroke="#111" stroke-width="0.1">0</text>
<path d="M91.7 464V465.6" stroke="#222" stroke-width="0.7"/>
<text x="91.7" y="470.9" text-anchor="middle" font-size="5.4" font-weight="bold" fill="#111" stroke="#111" stroke-width="0.1">1</text>
<path d="M138.6 464V465.6" stroke="#222" stroke-width="0.7"/>
<text x="138.6" y="470.9" text-anchor="middle" font-size="5.4" font-weight="bold" fill="#111" stroke="#111" stroke-width="0.1">5</text>
<path d="M185.5 464V465.6" stroke="#222" stroke-width="0.7"/>
<text x="185.5" y="470.9" text-anchor="middle" font-size="5.4" font-weight="bold" fill="#111" stroke="#111" stroke-width="0.1">10</text>
<text x="116.6" y="477.8" text-anchor="middle" font-size="6.52" fill="#222" stroke="#222" stroke-width="0.12">concentration (mg/kg)</text>
<text x="52.3" y="497" font-size="6.36" fill="#222" stroke="#222" stroke-width="0.12">exposure_time</text>
<rect x="98.6" y="488.5" width="11.2" height="11.2" fill="#ffffff" stroke="#1c1c1c" stroke-width="1.3"/>
<text x="112.7" y="496.5" font-size="5.3" fill="#333" stroke="#333" stroke-width="0.08">7</text>
<rect x="118.6" y="488.5" width="11.2" height="11.2" fill="#b3b3b3" stroke="#1c1c1c" stroke-width="1.3"/>
<text x="133" y="496.5" font-size="5.3" fill="#333" stroke="#333" stroke-width="0.08">14</text>
<rect x="141.8" y="488.5" width="11.2" height="11.2" fill="#666666" stroke="#1c1c1c" stroke-width="1.3"/>
<text x="156" y="496.5" font-size="5.3" fill="#333" stroke="#333" stroke-width="0.08">28</text>
</g>
<g>
<text x="340.4" y="281.8" text-anchor="middle" font-size="16.3" font-weight="bold" fill="#000" stroke="#000" stroke-width="0.4" textLength="25" lengthAdjust="spacingAndGlyphs">GR</text>
<path d="M251.05 287.7V464.5" fill="none" stroke="#969696" stroke-width="1.8"/>
<path d="M250.2 464H447.4" fill="none" stroke="#3c3c3c" stroke-width="1.15"/>
<path d="M249.6 456H250.7" stroke="#111" stroke-width="1.1"/>
<text x="248.9" y="457.95" text-anchor="end" font-size="5.4" font-weight="bold" fill="#111" stroke="#111" stroke-width="0.1">0.0</text>
<path d="M249.6 416H250.7" stroke="#111" stroke-width="1.1"/>
<text x="248.9" y="417.95" text-anchor="end" font-size="5.4" font-weight="bold" fill="#111" stroke="#111" stroke-width="0.1">0.5</text>
<path d="M249.6 376H250.7" stroke="#111" stroke-width="1.1"/>
<text x="248.9" y="377.95" text-anchor="end" font-size="5.4" font-weight="bold" fill="#111" stroke="#111" stroke-width="0.1">1.0</text>
<path d="M249.6 336H250.7" stroke="#111" stroke-width="1.1"/>
<text x="248.9" y="337.95" text-anchor="end" font-size="5.4" font-weight="bold" fill="#111" stroke="#111" stroke-width="0.1">1.5</text>
<path d="M249.6 296H250.7" stroke="#111" stroke-width="1.1"/>
<text x="248.9" y="297.95" text-anchor="end" font-size="5.4" font-weight="bold" fill="#111" stroke="#111" stroke-width="0.1">2.0</text>
<text transform="translate(239.9 375.8) rotate(-90)" text-anchor="middle" font-size="6.5" fill="#222" stroke="#222" stroke-width="0.12">GR activity</text>
<path d="M264.94 376V323.06" stroke="#404040" stroke-width="1.6" fill="none"/><path d="M261.54 323.36H268.34" stroke="#262626" stroke-width="1.2" fill="none"/>
<rect x="257.9" y="376" width="14.07" height="80" fill="#ffffff" stroke="#242424" stroke-width="1.45"/>
<text x="265.34" y="320.46" text-anchor="middle" font-size="9.5" fill="#1a1a1a" stroke="#1a1a1a" stroke-width="0.1">a</text>
<path d="M279.01 376V338.18" stroke="#404040" stroke-width="1.6" fill="none"/><path d="M275.61 338.48H282.41" stroke="#262626" stroke-width="1.2" fill="none"/>
<rect x="271.97" y="376" width="14.07" height="80" fill="#b3b3b3" stroke="#242424" stroke-width="1.45"/>
<text x="279.41" y="335.58" text-anchor="middle" font-size="9.5" fill="#1a1a1a" stroke="#1a1a1a" stroke-width="0.1">a</text>
<path d="M293.08 376V327.14" stroke="#404040" stroke-width="1.6" fill="none"/><path d="M289.68 327.44H296.48" stroke="#262626" stroke-width="1.2" fill="none"/>
<rect x="286.04" y="376" width="14.07" height="80" fill="#666666" stroke="#242424" stroke-width="1.45"/>
<text x="293.48" y="324.54" text-anchor="middle" font-size="9.5" fill="#1a1a1a" stroke="#1a1a1a" stroke-width="0.1">a</text>
<path d="M311.84 384.48V319.94" stroke="#404040" stroke-width="1.6" fill="none"/><path d="M308.44 320.24H315.24" stroke="#262626" stroke-width="1.2" fill="none"/>
<rect x="304.8" y="384.48" width="14.07" height="71.52" fill="#ffffff" stroke="#242424" stroke-width="1.45"/>
<text x="312.24" y="317.34" text-anchor="middle" font-size="9.5" fill="#1a1a1a" stroke="#1a1a1a" stroke-width="0.1">ab</text>
<path d="M325.91 370.32V319.54" stroke="#404040" stroke-width="1.6" fill="none"/><path d="M322.51 319.84H329.31" stroke="#262626" stroke-width="1.2" fill="none"/>
<rect x="318.87" y="370.32" width="14.07" height="85.68" fill="#b3b3b3" stroke="#242424" stroke-width="1.45"/>
<text x="326.31" y="316.94" text-anchor="middle" font-size="9.5" fill="#1a1a1a" stroke="#1a1a1a" stroke-width="0.1">a</text>
<path d="M339.98 415.84V382.34" stroke="#404040" stroke-width="1.6" fill="none"/><path d="M336.58 382.64H343.38" stroke="#262626" stroke-width="1.2" fill="none"/>
<rect x="332.94" y="415.84" width="14.07" height="40.16" fill="#666666" stroke="#242424" stroke-width="1.45"/>
<text x="340.38" y="379.74" text-anchor="middle" font-size="9.5" fill="#1a1a1a" stroke="#1a1a1a" stroke-width="0.1">b</text>
<path d="M358.74 410.4V393.3" stroke="#404040" stroke-width="1.6" fill="none"/><path d="M355.34 393.6H362.14" stroke="#262626" stroke-width="1.2" fill="none"/>
<rect x="351.7" y="410.4" width="14.07" height="45.6" fill="#ffffff" stroke="#242424" stroke-width="1.45"/>
<text x="359.14" y="390.7" text-anchor="middle" font-size="9.5" fill="#1a1a1a" stroke="#1a1a1a" stroke-width="0.1">a</text>
<path d="M372.81 361.2V325.38" stroke="#404040" stroke-width="1.6" fill="none"/><path d="M369.41 325.68H376.21" stroke="#262626" stroke-width="1.2" fill="none"/>
<rect x="365.77" y="361.2" width="14.07" height="94.8" fill="#b3b3b3" stroke="#242424" stroke-width="1.45"/>
<text x="373.21" y="322.78" text-anchor="middle" font-size="9.5" fill="#1a1a1a" stroke="#1a1a1a" stroke-width="0.1">b</text>
<path d="M386.88 396.32V359.46" stroke="#404040" stroke-width="1.6" fill="none"/><path d="M383.48 359.76H390.28" stroke="#262626" stroke-width="1.2" fill="none"/>
<rect x="379.84" y="396.32" width="14.07" height="59.68" fill="#666666" stroke="#242424" stroke-width="1.45"/>
<text x="387.28" y="356.86" text-anchor="middle" font-size="9.5" fill="#1a1a1a" stroke="#1a1a1a" stroke-width="0.1">a</text>
<path d="M405.64 390.72V359.22" stroke="#404040" stroke-width="1.6" fill="none"/><path d="M402.24 359.52H409.04" stroke="#262626" stroke-width="1.2" fill="none"/>
<rect x="398.6" y="390.72" width="14.07" height="65.28" fill="#ffffff" stroke="#242424" stroke-width="1.45"/>
<text x="406.04" y="356.62" text-anchor="middle" font-size="9.5" fill="#1a1a1a" stroke="#1a1a1a" stroke-width="0.1">a</text>
<path d="M419.71 365.44V324.98" stroke="#404040" stroke-width="1.6" fill="none"/><path d="M416.31 325.28H423.11" stroke="#262626" stroke-width="1.2" fill="none"/>
<rect x="412.67" y="365.44" width="14.07" height="90.56" fill="#b3b3b3" stroke="#242424" stroke-width="1.45"/>
<text x="420.11" y="322.38" text-anchor="middle" font-size="9.5" fill="#1a1a1a" stroke="#1a1a1a" stroke-width="0.1">a</text>
<path d="M433.78 369.52V319.54" stroke="#404040" stroke-width="1.6" fill="none"/><path d="M430.38 319.84H437.18" stroke="#262626" stroke-width="1.2" fill="none"/>
<rect x="426.74" y="369.52" width="14.07" height="86.48" fill="#666666" stroke="#242424" stroke-width="1.45"/>
<text x="434.18" y="316.94" text-anchor="middle" font-size="9.5" fill="#1a1a1a" stroke="#1a1a1a" stroke-width="0.1">a</text>
<path d="M279.01 464V465.6" stroke="#222" stroke-width="0.7"/>
<text x="279.01" y="470.9" text-anchor="middle" font-size="5.4" font-weight="bold" fill="#111" stroke="#111" stroke-width="0.1">0</text>
<path d="M325.91 464V465.6" stroke="#222" stroke-width="0.7"/>
<text x="325.91" y="470.9" text-anchor="middle" font-size="5.4" font-weight="bold" fill="#111" stroke="#111" stroke-width="0.1">1</text>
<path d="M372.81 464V465.6" stroke="#222" stroke-width="0.7"/>
<text x="372.81" y="470.9" text-anchor="middle" font-size="5.4" font-weight="bold" fill="#111" stroke="#111" stroke-width="0.1">5</text>
<path d="M419.71 464V465.6" stroke="#222" stroke-width="0.7"/>
<text x="419.71" y="470.9" text-anchor="middle" font-size="5.4" font-weight="bold" fill="#111" stroke="#111" stroke-width="0.1">10</text>
<text x="349.8" y="477.8" text-anchor="middle" font-size="6.52" fill="#222" stroke="#222" stroke-width="0.12">concentration (mg/kg)</text>
<text x="286.5" y="495.1" font-size="6.36" fill="#222" stroke="#222" stroke-width="0.12">exposure_time</text>
<rect x="332.8" y="486.6" width="11.2" height="11.2" fill="#ffffff" stroke="#1c1c1c" stroke-width="1.3"/>
<text x="346.9" y="494.6" font-size="5.3" fill="#333" stroke="#333" stroke-width="0.08">7</text>
<rect x="352.8" y="486.6" width="11.2" height="11.2" fill="#b3b3b3" stroke="#1c1c1c" stroke-width="1.3"/>
<text x="367.2" y="494.6" font-size="5.3" fill="#333" stroke="#333" stroke-width="0.08">14</text>
<rect x="376" y="486.6" width="11.2" height="11.2" fill="#666666" stroke="#1c1c1c" stroke-width="1.3"/>
<text x="390.2" y="494.6" font-size="5.3" fill="#333" stroke="#333" stroke-width="0.08">28</text>
</g>
<g>
<text x="574.5" y="279.8" text-anchor="middle" font-size="16.3" font-weight="bold" fill="#000" stroke="#000" stroke-width="0.4" textLength="34" lengthAdjust="spacingAndGlyphs">GPx</text>
<path d="M484.45 285.4V462.2" fill="none" stroke="#969696" stroke-width="1.8"/>
<path d="M483.6 461.7H680.8" fill="none" stroke="#3c3c3c" stroke-width="1.15"/>
<path d="M483 453.7H484.1" stroke="#111" stroke-width="1.1"/>
<text x="482.3" y="455.65" text-anchor="end" font-size="5.4" font-weight="bold" fill="#111" stroke="#111" stroke-width="0.1">0.0</text>
<path d="M483 413.7H484.1" stroke="#111" stroke-width="1.1"/>
<text x="482.3" y="415.65" text-anchor="end" font-size="5.4" font-weight="bold" fill="#111" stroke="#111" stroke-width="0.1">0.5</text>
<path d="M483 373.7H484.1" stroke="#111" stroke-width="1.1"/>
<text x="482.3" y="375.65" text-anchor="end" font-size="5.4" font-weight="bold" fill="#111" stroke="#111" stroke-width="0.1">1.0</text>
<path d="M483 333.7H484.1" stroke="#111" stroke-width="1.1"/>
<text x="482.3" y="335.65" text-anchor="end" font-size="5.4" font-weight="bold" fill="#111" stroke="#111" stroke-width="0.1">1.5</text>
<path d="M483 293.7H484.1" stroke="#111" stroke-width="1.1"/>
<text x="482.3" y="295.65" text-anchor="end" font-size="5.4" font-weight="bold" fill="#111" stroke="#111" stroke-width="0.1">2.0</text>
<text transform="translate(473.3 373.5) rotate(-90)" text-anchor="middle" font-size="6.5" fill="#222" stroke="#222" stroke-width="0.12">GPx activity</text>
<path d="M498.34 373.7V348.52" stroke="#404040" stroke-width="1.6" fill="none"/><path d="M494.94 348.82H501.74" stroke="#262626" stroke-width="1.2" fill="none"/>
<rect x="491.3" y="373.7" width="14.07" height="80" fill="#ffffff" stroke="#242424" stroke-width="1.45"/>
<text x="498.74" y="344.72" text-anchor="middle" font-size="9.5" fill="#1a1a1a" stroke="#1a1a1a" stroke-width="0.1">a</text>
<path d="M512.4 373.7V358.52" stroke="#404040" stroke-width="1.6" fill="none"/><path d="M509 358.82H515.8" stroke="#262626" stroke-width="1.2" fill="none"/>
<rect x="505.37" y="373.7" width="14.07" height="80" fill="#b3b3b3" stroke="#242424" stroke-width="1.45"/>
<text x="512.8" y="354.72" text-anchor="middle" font-size="9.5" fill="#1a1a1a" stroke="#1a1a1a" stroke-width="0.1">a</text>
<path d="M526.48 373.7V338.84" stroke="#404040" stroke-width="1.6" fill="none"/><path d="M523.08 339.14H529.88" stroke="#262626" stroke-width="1.2" fill="none"/>
<rect x="519.44" y="373.7" width="14.07" height="80" fill="#666666" stroke="#242424" stroke-width="1.45"/>
<text x="526.88" y="335.04" text-anchor="middle" font-size="9.5" fill="#1a1a1a" stroke="#1a1a1a" stroke-width="0.1">a</text>
<path d="M545.24 350.34V322.36" stroke="#404040" stroke-width="1.6" fill="none"/><path d="M541.84 322.66H548.63" stroke="#262626" stroke-width="1.2" fill="none"/>
<rect x="538.2" y="350.34" width="14.07" height="103.36" fill="#ffffff" stroke="#242424" stroke-width="1.45"/>
<text x="545.63" y="318.56" text-anchor="middle" font-size="9.5" fill="#1a1a1a" stroke="#1a1a1a" stroke-width="0.1">a</text>
<path d="M559.31 350.9V323.96" stroke="#404040" stroke-width="1.6" fill="none"/><path d="M555.91 324.26H562.71" stroke="#262626" stroke-width="1.2" fill="none"/>
<rect x="552.27" y="350.9" width="14.07" height="102.8" fill="#b3b3b3" stroke="#242424" stroke-width="1.45"/>
<text x="559.71" y="320.16" text-anchor="middle" font-size="9.5" fill="#1a1a1a" stroke="#1a1a1a" stroke-width="0.1">a</text>
<path d="M573.38 388.82V348.28" stroke="#404040" stroke-width="1.6" fill="none"/><path d="M569.98 348.58H576.77" stroke="#262626" stroke-width="1.2" fill="none"/>
<rect x="566.34" y="388.82" width="14.07" height="64.88" fill="#666666" stroke="#242424" stroke-width="1.45"/>
<text x="573.77" y="344.48" text-anchor="middle" font-size="9.5" fill="#1a1a1a" stroke="#1a1a1a" stroke-width="0.1">b</text>
<path d="M592.13 361.38V338.84" stroke="#404040" stroke-width="1.6" fill="none"/><path d="M588.74 339.14H595.53" stroke="#262626" stroke-width="1.2" fill="none"/>
<rect x="585.1" y="361.38" width="14.07" height="92.32" fill="#ffffff" stroke="#242424" stroke-width="1.45"/>
<text x="592.53" y="335.04" text-anchor="middle" font-size="9.5" fill="#1a1a1a" stroke="#1a1a1a" stroke-width="0.1">a</text>
<path d="M606.21 343.14V324.44" stroke="#404040" stroke-width="1.6" fill="none"/><path d="M602.81 324.74H609.61" stroke="#262626" stroke-width="1.2" fill="none"/>
<rect x="599.17" y="343.14" width="14.07" height="110.56" fill="#b3b3b3" stroke="#242424" stroke-width="1.45"/>
<text x="606.61" y="321.84" text-anchor="middle" font-size="9.5" fill="#1a1a1a" stroke="#1a1a1a" stroke-width="0.1">a</text>
<text x="606.5" y="314.54" text-anchor="middle" font-size="12" font-weight="bold" fill="#000">*</text>
<path d="M620.27 388.58V347.96" stroke="#404040" stroke-width="1.6" fill="none"/><path d="M616.88 348.26H623.67" stroke="#262626" stroke-width="1.2" fill="none"/>
<rect x="613.24" y="388.58" width="14.07" height="65.12" fill="#666666" stroke="#242424" stroke-width="1.45"/>
<text x="620.67" y="344.16" text-anchor="middle" font-size="9.5" fill="#1a1a1a" stroke="#1a1a1a" stroke-width="0.1">b</text>
<path d="M639.03 361.62V340.44" stroke="#404040" stroke-width="1.6" fill="none"/><path d="M635.63 340.74H642.43" stroke="#262626" stroke-width="1.2" fill="none"/>
<rect x="632" y="361.62" width="14.07" height="92.08" fill="#ffffff" stroke="#242424" stroke-width="1.45"/>
<text x="639.43" y="336.64" text-anchor="middle" font-size="9.5" fill="#1a1a1a" stroke="#1a1a1a" stroke-width="0.1">ab</text>
<path d="M653.11 343.54V316.04" stroke="#404040" stroke-width="1.6" fill="none"/><path d="M649.71 316.34H656.5" stroke="#262626" stroke-width="1.2" fill="none"/>
<rect x="646.07" y="343.54" width="14.07" height="110.16" fill="#b3b3b3" stroke="#242424" stroke-width="1.45"/>
<text x="653.5" y="313.44" text-anchor="middle" font-size="9.5" fill="#1a1a1a" stroke="#1a1a1a" stroke-width="0.1">a</text>
<text x="652.9" y="307.84" text-anchor="middle" font-size="12" font-weight="bold" fill="#000">*</text>
<path d="M667.17 376.02V334.6" stroke="#404040" stroke-width="1.6" fill="none"/><path d="M663.77 334.9H670.57" stroke="#262626" stroke-width="1.2" fill="none"/>
<rect x="660.14" y="376.02" width="14.07" height="77.68" fill="#666666" stroke="#242424" stroke-width="1.45"/>
<text x="667.57" y="330.8" text-anchor="middle" font-size="9.5" fill="#1a1a1a" stroke="#1a1a1a" stroke-width="0.1">b</text>
<path d="M512.4 461.7V463.3" stroke="#222" stroke-width="0.7"/>
<text x="512.4" y="468.6" text-anchor="middle" font-size="5.4" font-weight="bold" fill="#111" stroke="#111" stroke-width="0.1">0</text>
<path d="M559.31 461.7V463.3" stroke="#222" stroke-width="0.7"/>
<text x="559.31" y="468.6" text-anchor="middle" font-size="5.4" font-weight="bold" fill="#111" stroke="#111" stroke-width="0.1">1</text>
<path d="M606.21 461.7V463.3" stroke="#222" stroke-width="0.7"/>
<text x="606.21" y="468.6" text-anchor="middle" font-size="5.4" font-weight="bold" fill="#111" stroke="#111" stroke-width="0.1">5</text>
<path d="M653.11 461.7V463.3" stroke="#222" stroke-width="0.7"/>
<text x="653.11" y="468.6" text-anchor="middle" font-size="5.4" font-weight="bold" fill="#111" stroke="#111" stroke-width="0.1">10</text>
<text x="583.2" y="476.2" text-anchor="middle" font-size="6.52" fill="#222" stroke="#222" stroke-width="0.12">concentration (mg/kg)</text>
<text x="528.2" y="493.2" font-size="6.36" fill="#222" stroke="#222" stroke-width="0.12">exposure_time</text>
<rect x="574.5" y="484.7" width="11.2" height="11.2" fill="#ffffff" stroke="#1c1c1c" stroke-width="1.3"/>
<text x="588.6" y="492.7" font-size="5.3" fill="#333" stroke="#333" stroke-width="0.08">7</text>
<rect x="594.5" y="484.7" width="11.2" height="11.2" fill="#b3b3b3" stroke="#1c1c1c" stroke-width="1.3"/>
<text x="608.9" y="492.7" font-size="5.3" fill="#333" stroke="#333" stroke-width="0.08">14</text>
<rect x="617.7" y="484.7" width="11.2" height="11.2" fill="#666666" stroke="#1c1c1c" stroke-width="1.3"/>
<text x="631.9" y="492.7" font-size="5.3" fill="#333" stroke="#333" stroke-width="0.08">28</text>
</g>
<g>
<text x="106.5" y="548" text-anchor="middle" font-size="16.3" font-weight="bold" fill="#000" stroke="#000" stroke-width="0.4" textLength="38.2" lengthAdjust="spacingAndGlyphs">MXR</text>
<path d="M16.85 552.1V728.9" fill="none" stroke="#969696" stroke-width="1.8"/>
<path d="M16 728.4H213.2" fill="none" stroke="#3c3c3c" stroke-width="1.15"/>
<path d="M15.4 720.4H16.5" stroke="#111" stroke-width="1.1"/>
<text x="14.7" y="722.35" text-anchor="end" font-size="5.4" font-weight="bold" fill="#111" stroke="#111" stroke-width="0.1">0.0</text>
<path d="M15.4 680.4H16.5" stroke="#111" stroke-width="1.1"/>
<text x="14.7" y="682.35" text-anchor="end" font-size="5.4" font-weight="bold" fill="#111" stroke="#111" stroke-width="0.1">0.5</text>
<path d="M15.4 640.4H16.5" stroke="#111" stroke-width="1.1"/>
<text x="14.7" y="642.35" text-anchor="end" font-size="5.4" font-weight="bold" fill="#111" stroke="#111" stroke-width="0.1">1.0</text>
<path d="M15.4 600.4H16.5" stroke="#111" stroke-width="1.1"/>
<text x="14.7" y="602.35" text-anchor="end" font-size="5.4" font-weight="bold" fill="#111" stroke="#111" stroke-width="0.1">1.5</text>
<path d="M15.4 560.4H16.5" stroke="#111" stroke-width="1.1"/>
<text x="14.7" y="562.35" text-anchor="end" font-size="5.4" font-weight="bold" fill="#111" stroke="#111" stroke-width="0.1">2.0</text>
<text transform="translate(5.7 640.2) rotate(-90)" text-anchor="middle" font-size="6.5" fill="#222" stroke="#222" stroke-width="0.12">Relative RB. conc.</text>
<path d="M30.74 640.4V610.26" stroke="#404040" stroke-width="1.6" fill="none"/><path d="M27.34 610.56H34.14" stroke="#262626" stroke-width="1.2" fill="none"/>
<rect x="23.7" y="640.4" width="14.07" height="80" fill="#ffffff" stroke="#242424" stroke-width="1.45"/>
<text x="31.14" y="607.66" text-anchor="middle" font-size="9.5" fill="#1a1a1a" stroke="#1a1a1a" stroke-width="0.1">a</text>
<path d="M44.81 640.4V621.86" stroke="#404040" stroke-width="1.6" fill="none"/><path d="M41.41 622.16H48.21" stroke="#262626" stroke-width="1.2" fill="none"/>
<rect x="37.77" y="640.4" width="14.07" height="80" fill="#b3b3b3" stroke="#242424" stroke-width="1.45"/>
<text x="45.21" y="619.26" text-anchor="middle" font-size="9.5" fill="#1a1a1a" stroke="#1a1a1a" stroke-width="0.1">a</text>
<path d="M58.88 640.4V616.26" stroke="#404040" stroke-width="1.6" fill="none"/><path d="M55.48 616.56H62.27" stroke="#262626" stroke-width="1.2" fill="none"/>
<rect x="51.84" y="640.4" width="14.07" height="80" fill="#666666" stroke="#242424" stroke-width="1.45"/>
<text x="59.27" y="613.66" text-anchor="middle" font-size="9.5" fill="#1a1a1a" stroke="#1a1a1a" stroke-width="0.1">a</text>
<path d="M77.63 669.52V651.06" stroke="#404040" stroke-width="1.6" fill="none"/><path d="M74.23 651.36H81.03" stroke="#262626" stroke-width="1.2" fill="none"/>
<rect x="70.6" y="669.52" width="14.07" height="50.88" fill="#ffffff" stroke="#242424" stroke-width="1.45"/>
<text x="78.03" y="648.46" text-anchor="middle" font-size="9.5" fill="#1a1a1a" stroke="#1a1a1a" stroke-width="0.1">a</text>
<path d="M91.7 634.32V597.3" stroke="#404040" stroke-width="1.6" fill="none"/><path d="M88.3 597.6H95.1" stroke="#262626" stroke-width="1.2" fill="none"/>
<rect x="84.67" y="634.32" width="14.07" height="86.08" fill="#b3b3b3" stroke="#242424" stroke-width="1.45"/>
<text x="92.1" y="594.7" text-anchor="middle" font-size="9.5" fill="#1a1a1a" stroke="#1a1a1a" stroke-width="0.1">b</text>
<path d="M105.77 656.4V630.34" stroke="#404040" stroke-width="1.6" fill="none"/><path d="M102.37 630.64H109.17" stroke="#262626" stroke-width="1.2" fill="none"/>
<rect x="98.74" y="656.4" width="14.07" height="64" fill="#666666" stroke="#242424" stroke-width="1.45"/>
<text x="106.17" y="627.74" text-anchor="middle" font-size="9.5" fill="#1a1a1a" stroke="#1a1a1a" stroke-width="0.1">c</text>
<path d="M124.53 681.6V665.38" stroke="#404040" stroke-width="1.6" fill="none"/><path d="M121.13 665.68H127.94" stroke="#262626" stroke-width="1.2" fill="none"/>
<rect x="117.5" y="681.6" width="14.07" height="38.8" fill="#ffffff" stroke="#242424" stroke-width="1.45"/>
<text x="124.94" y="662.78" text-anchor="middle" font-size="9.5" fill="#1a1a1a" stroke="#1a1a1a" stroke-width="0.1">a</text>
<path d="M138.6 647.6V610.66" stroke="#404040" stroke-width="1.6" fill="none"/><path d="M135.2 610.96H142" stroke="#262626" stroke-width="1.2" fill="none"/>
<rect x="131.57" y="647.6" width="14.07" height="72.8" fill="#b3b3b3" stroke="#242424" stroke-width="1.45"/>
<text x="139" y="608.06" text-anchor="middle" font-size="9.5" fill="#1a1a1a" stroke="#1a1a1a" stroke-width="0.1">b</text>
<path d="M152.67 622.48V585.22" stroke="#404040" stroke-width="1.6" fill="none"/><path d="M149.27 585.52H156.07" stroke="#262626" stroke-width="1.2" fill="none"/>
<rect x="145.64" y="622.48" width="14.07" height="97.92" fill="#666666" stroke="#242424" stroke-width="1.45"/>
<text x="153.07" y="582.62" text-anchor="middle" font-size="9.5" fill="#1a1a1a" stroke="#1a1a1a" stroke-width="0.1">c</text>
<path d="M171.43 666.72V634.58" stroke="#404040" stroke-width="1.6" fill="none"/><path d="M168.03 634.88H174.83" stroke="#262626" stroke-width="1.2" fill="none"/>
<rect x="164.4" y="666.72" width="14.07" height="53.68" fill="#ffffff" stroke="#242424" stroke-width="1.45"/>
<text x="171.83" y="631.98" text-anchor="middle" font-size="9.5" fill="#1a1a1a" stroke="#1a1a1a" stroke-width="0.1">a</text>
<path d="M185.5 644.56V613.62" stroke="#404040" stroke-width="1.6" fill="none"/><path d="M182.1 613.92H188.9" stroke="#262626" stroke-width="1.2" fill="none"/>
<rect x="178.47" y="644.56" width="14.07" height="75.84" fill="#b3b3b3" stroke="#242424" stroke-width="1.45"/>
<text x="185.9" y="611.02" text-anchor="middle" font-size="9.5" fill="#1a1a1a" stroke="#1a1a1a" stroke-width="0.1">a</text>
<path d="M199.57 619.36V569.38" stroke="#404040" stroke-width="1.6" fill="none"/><path d="M196.17 569.68H202.97" stroke="#262626" stroke-width="1.2" fill="none"/>
<rect x="192.54" y="619.36" width="14.07" height="101.04" fill="#666666" stroke="#242424" stroke-width="1.45"/>
<text x="199.97" y="566.78" text-anchor="middle" font-size="9.5" fill="#1a1a1a" stroke="#1a1a1a" stroke-width="0.1">a</text>
<path d="M44.81 728.4V730" stroke="#222" stroke-width="0.7"/>
<text x="44.81" y="735.3" text-anchor="middle" font-size="5.4" font-weight="bold" fill="#111" stroke="#111" stroke-width="0.1">0</text>
<path d="M91.7 728.4V730" stroke="#222" stroke-width="0.7"/>
<text x="91.7" y="735.3" text-anchor="middle" font-size="5.4" font-weight="bold" fill="#111" stroke="#111" stroke-width="0.1">1</text>
<path d="M138.6 728.4V730" stroke="#222" stroke-width="0.7"/>
<text x="138.6" y="735.3" text-anchor="middle" font-size="5.4" font-weight="bold" fill="#111" stroke="#111" stroke-width="0.1">5</text>
<path d="M185.5 728.4V730" stroke="#222" stroke-width="0.7"/>
<text x="185.5" y="735.3" text-anchor="middle" font-size="5.4" font-weight="bold" fill="#111" stroke="#111" stroke-width="0.1">10</text>
<text x="115.6" y="742.6" text-anchor="middle" font-size="6.52" fill="#222" stroke="#222" stroke-width="0.12">concentration (mg/kg)</text>
<text x="52.3" y="758.6" font-size="6.36" fill="#222" stroke="#222" stroke-width="0.12">exposure_time</text>
<rect x="98.6" y="750.1" width="11.2" height="11.2" fill="#ffffff" stroke="#1c1c1c" stroke-width="1.3"/>
<text x="112.7" y="758.1" font-size="5.3" fill="#333" stroke="#333" stroke-width="0.08">7</text>
<rect x="118.6" y="750.1" width="11.2" height="11.2" fill="#b3b3b3" stroke="#1c1c1c" stroke-width="1.3"/>
<text x="133" y="758.1" font-size="5.3" fill="#333" stroke="#333" stroke-width="0.08">14</text>
<rect x="141.8" y="750.1" width="11.2" height="11.2" fill="#666666" stroke="#1c1c1c" stroke-width="1.3"/>
<text x="156" y="758.1" font-size="5.3" fill="#333" stroke="#333" stroke-width="0.08">28</text>
</g>
<g>
<text x="341.3" y="547.8" text-anchor="middle" font-size="16.3" font-weight="bold" fill="#000" stroke="#000" stroke-width="0.4" textLength="35.1" lengthAdjust="spacingAndGlyphs">GSH</text>
<path d="M251.05 558.9V735.7" fill="none" stroke="#969696" stroke-width="1.8"/>
<path d="M250.2 735.2H447.4" fill="none" stroke="#3c3c3c" stroke-width="1.15"/>
<path d="M249.6 727.2H250.7" stroke="#111" stroke-width="1.1"/>
<text x="248.9" y="729.15" text-anchor="end" font-size="5.4" font-weight="bold" fill="#111" stroke="#111" stroke-width="0.1">0.0</text>
<path d="M249.6 687.2H250.7" stroke="#111" stroke-width="1.1"/>
<text x="248.9" y="689.15" text-anchor="end" font-size="5.4" font-weight="bold" fill="#111" stroke="#111" stroke-width="0.1">0.5</text>
<path d="M249.6 647.2H250.7" stroke="#111" stroke-width="1.1"/>
<text x="248.9" y="649.15" text-anchor="end" font-size="5.4" font-weight="bold" fill="#111" stroke="#111" stroke-width="0.1">1.0</text>
<path d="M249.6 607.2H250.7" stroke="#111" stroke-width="1.1"/>
<text x="248.9" y="609.15" text-anchor="end" font-size="5.4" font-weight="bold" fill="#111" stroke="#111" stroke-width="0.1">1.5</text>
<path d="M249.6 567.2H250.7" stroke="#111" stroke-width="1.1"/>
<text x="248.9" y="569.15" text-anchor="end" font-size="5.4" font-weight="bold" fill="#111" stroke="#111" stroke-width="0.1">2.0</text>
<text transform="translate(239.9 647) rotate(-90)" text-anchor="middle" font-size="6.5" fill="#222" stroke="#222" stroke-width="0.12">Relative fluorescence</text>
<path d="M264.94 647.2V625.14" stroke="#404040" stroke-width="1.6" fill="none"/><path d="M261.54 625.44H268.34" stroke="#262626" stroke-width="1.2" fill="none"/>
<rect x="257.9" y="647.2" width="14.07" height="80" fill="#ffffff" stroke="#242424" stroke-width="1.45"/>
<text x="265.34" y="621.74" text-anchor="middle" font-size="9.5" fill="#1a1a1a" stroke="#1a1a1a" stroke-width="0.1">a</text>
<path d="M279.01 647.2V625.86" stroke="#404040" stroke-width="1.6" fill="none"/><path d="M275.61 626.16H282.41" stroke="#262626" stroke-width="1.2" fill="none"/>
<rect x="271.97" y="647.2" width="14.07" height="80" fill="#b3b3b3" stroke="#242424" stroke-width="1.45"/>
<text x="279.41" y="622.46" text-anchor="middle" font-size="9.5" fill="#1a1a1a" stroke="#1a1a1a" stroke-width="0.1">a</text>
<path d="M293.08 647.2V621.3" stroke="#404040" stroke-width="1.6" fill="none"/><path d="M289.68 621.6H296.48" stroke="#262626" stroke-width="1.2" fill="none"/>
<rect x="286.04" y="647.2" width="14.07" height="80" fill="#666666" stroke="#242424" stroke-width="1.45"/>
<text x="293.48" y="617.9" text-anchor="middle" font-size="9.5" fill="#1a1a1a" stroke="#1a1a1a" stroke-width="0.1">a</text>
<path d="M311.84 661.68V640.18" stroke="#404040" stroke-width="1.6" fill="none"/><path d="M308.44 640.48H315.24" stroke="#262626" stroke-width="1.2" fill="none"/>
<rect x="304.8" y="661.68" width="14.07" height="65.52" fill="#ffffff" stroke="#242424" stroke-width="1.45"/>
<text x="312.24" y="636.78" text-anchor="middle" font-size="9.5" fill="#1a1a1a" stroke="#1a1a1a" stroke-width="0.1">a</text>
<path d="M325.91 662.4V639.38" stroke="#404040" stroke-width="1.6" fill="none"/><path d="M322.51 639.68H329.31" stroke="#262626" stroke-width="1.2" fill="none"/>
<rect x="318.87" y="662.4" width="14.07" height="64.8" fill="#b3b3b3" stroke="#242424" stroke-width="1.45"/>
<text x="326.31" y="635.98" text-anchor="middle" font-size="9.5" fill="#1a1a1a" stroke="#1a1a1a" stroke-width="0.1">a</text>
<path d="M339.98 632.72V593.46" stroke="#404040" stroke-width="1.6" fill="none"/><path d="M336.58 593.76H343.38" stroke="#262626" stroke-width="1.2" fill="none"/>
<rect x="332.94" y="632.72" width="14.07" height="94.48" fill="#666666" stroke="#242424" stroke-width="1.45"/>
<text x="340.38" y="590.06" text-anchor="middle" font-size="9.5" fill="#1a1a1a" stroke="#1a1a1a" stroke-width="0.1">b</text>
<path d="M358.74 661.76V627.06" stroke="#404040" stroke-width="1.6" fill="none"/><path d="M355.34 627.36H362.14" stroke="#262626" stroke-width="1.2" fill="none"/>
<rect x="351.7" y="661.76" width="14.07" height="65.44" fill="#ffffff" stroke="#242424" stroke-width="1.45"/>
<text x="359.14" y="623.66" text-anchor="middle" font-size="9.5" fill="#1a1a1a" stroke="#1a1a1a" stroke-width="0.1">a</text>
<path d="M372.81 670.72V648.82" stroke="#404040" stroke-width="1.6" fill="none"/><path d="M369.41 649.12H376.21" stroke="#262626" stroke-width="1.2" fill="none"/>
<rect x="365.77" y="670.72" width="14.07" height="56.48" fill="#b3b3b3" stroke="#242424" stroke-width="1.45"/>
<text x="373.21" y="645.42" text-anchor="middle" font-size="9.5" fill="#1a1a1a" stroke="#1a1a1a" stroke-width="0.1">a</text>
<path d="M386.88 630.4V587.94" stroke="#404040" stroke-width="1.6" fill="none"/><path d="M383.48 588.24H390.28" stroke="#262626" stroke-width="1.2" fill="none"/>
<rect x="379.84" y="630.4" width="14.07" height="96.8" fill="#666666" stroke="#242424" stroke-width="1.45"/>
<text x="387.28" y="584.54" text-anchor="middle" font-size="9.5" fill="#1a1a1a" stroke="#1a1a1a" stroke-width="0.1">b</text>
<path d="M405.64 668.64V648.98" stroke="#404040" stroke-width="1.6" fill="none"/><path d="M402.24 649.28H409.04" stroke="#262626" stroke-width="1.2" fill="none"/>
<rect x="398.6" y="668.64" width="14.07" height="58.56" fill="#ffffff" stroke="#242424" stroke-width="1.45"/>
<text x="406.04" y="645.58" text-anchor="middle" font-size="9.5" fill="#1a1a1a" stroke="#1a1a1a" stroke-width="0.1">a</text>
<path d="M419.71 657.92V633.22" stroke="#404040" stroke-width="1.6" fill="none"/><path d="M416.31 633.52H423.11" stroke="#262626" stroke-width="1.2" fill="none"/>
<rect x="412.67" y="657.92" width="14.07" height="69.28" fill="#b3b3b3" stroke="#242424" stroke-width="1.45"/>
<text x="420.11" y="629.82" text-anchor="middle" font-size="9.5" fill="#1a1a1a" stroke="#1a1a1a" stroke-width="0.1">a</text>
<path d="M433.78 650.56V626.18" stroke="#404040" stroke-width="1.6" fill="none"/><path d="M430.38 626.48H437.18" stroke="#262626" stroke-width="1.2" fill="none"/>
<rect x="426.74" y="650.56" width="14.07" height="76.64" fill="#666666" stroke="#242424" stroke-width="1.45"/>
<text x="434.18" y="622.78" text-anchor="middle" font-size="9.5" fill="#1a1a1a" stroke="#1a1a1a" stroke-width="0.1">a</text>
<path d="M279.01 735.2V736.8" stroke="#222" stroke-width="0.7"/>
<text x="279.01" y="742.1" text-anchor="middle" font-size="5.4" font-weight="bold" fill="#111" stroke="#111" stroke-width="0.1">0</text>
<path d="M325.91 735.2V736.8" stroke="#222" stroke-width="0.7"/>
<text x="325.91" y="742.1" text-anchor="middle" font-size="5.4" font-weight="bold" fill="#111" stroke="#111" stroke-width="0.1">1</text>
<path d="M372.81 735.2V736.8" stroke="#222" stroke-width="0.7"/>
<text x="372.81" y="742.1" text-anchor="middle" font-size="5.4" font-weight="bold" fill="#111" stroke="#111" stroke-width="0.1">5</text>
<path d="M419.71 735.2V736.8" stroke="#222" stroke-width="0.7"/>
<text x="419.71" y="742.1" text-anchor="middle" font-size="5.4" font-weight="bold" fill="#111" stroke="#111" stroke-width="0.1">10</text>
<text x="349.8" y="749.2" text-anchor="middle" font-size="6.52" fill="#222" stroke="#222" stroke-width="0.12">concentration (mg/kg)</text>
<text x="286.5" y="765.7" font-size="6.36" fill="#222" stroke="#222" stroke-width="0.12">exposure_time</text>
<rect x="332.8" y="757.2" width="11.2" height="11.2" fill="#ffffff" stroke="#1c1c1c" stroke-width="1.3"/>
<text x="346.9" y="765.2" font-size="5.3" fill="#333" stroke="#333" stroke-width="0.08">7</text>
<rect x="352.8" y="757.2" width="11.2" height="11.2" fill="#b3b3b3" stroke="#1c1c1c" stroke-width="1.3"/>
<text x="367.2" y="765.2" font-size="5.3" fill="#333" stroke="#333" stroke-width="0.08">14</text>
<rect x="376" y="757.2" width="11.2" height="11.2" fill="#666666" stroke="#1c1c1c" stroke-width="1.3"/>
<text x="390.2" y="765.2" font-size="5.3" fill="#333" stroke="#333" stroke-width="0.08">28</text>
</g>
<g>
<text x="574.8" y="547.8" text-anchor="middle" font-size="16.3" font-weight="bold" fill="#000" stroke="#000" stroke-width="0.4" textLength="35.5" lengthAdjust="spacingAndGlyphs">ROS</text>
<path d="M484.85 553V729.8" fill="none" stroke="#969696" stroke-width="1.8"/>
<path d="M484 729.3H681.2" fill="none" stroke="#3c3c3c" stroke-width="1.15"/>
<path d="M483.4 721.3H484.5" stroke="#111" stroke-width="1.1"/>
<text x="482.7" y="723.25" text-anchor="end" font-size="5.4" font-weight="bold" fill="#111" stroke="#111" stroke-width="0.1">0.0</text>
<path d="M483.4 681.3H484.5" stroke="#111" stroke-width="1.1"/>
<text x="482.7" y="683.25" text-anchor="end" font-size="5.4" font-weight="bold" fill="#111" stroke="#111" stroke-width="0.1">0.5</text>
<path d="M483.4 641.3H484.5" stroke="#111" stroke-width="1.1"/>
<text x="482.7" y="643.25" text-anchor="end" font-size="5.4" font-weight="bold" fill="#111" stroke="#111" stroke-width="0.1">1.0</text>
<path d="M483.4 601.3H484.5" stroke="#111" stroke-width="1.1"/>
<text x="482.7" y="603.25" text-anchor="end" font-size="5.4" font-weight="bold" fill="#111" stroke="#111" stroke-width="0.1">1.5</text>
<path d="M483.4 561.3H484.5" stroke="#111" stroke-width="1.1"/>
<text x="482.7" y="563.25" text-anchor="end" font-size="5.4" font-weight="bold" fill="#111" stroke="#111" stroke-width="0.1">2.0</text>
<text transform="translate(473.7 641.1) rotate(-90)" text-anchor="middle" font-size="6.5" fill="#222" stroke="#222" stroke-width="0.12">Relative fluorescence</text>
<path d="M498.74 641.3V608.92" stroke="#404040" stroke-width="1.6" fill="none"/><path d="M495.34 609.22H502.14" stroke="#262626" stroke-width="1.2" fill="none"/>
<rect x="491.7" y="641.3" width="14.07" height="80" fill="#ffffff" stroke="#242424" stroke-width="1.45"/>
<text x="499.14" y="605.12" text-anchor="middle" font-size="9.5" fill="#1a1a1a" stroke="#1a1a1a" stroke-width="0.1">a</text>
<path d="M512.81 641.3V614.52" stroke="#404040" stroke-width="1.6" fill="none"/><path d="M509.41 614.82H516.21" stroke="#262626" stroke-width="1.2" fill="none"/>
<rect x="505.77" y="641.3" width="14.07" height="80" fill="#b3b3b3" stroke="#242424" stroke-width="1.45"/>
<text x="513.21" y="610.72" text-anchor="middle" font-size="9.5" fill="#1a1a1a" stroke="#1a1a1a" stroke-width="0.1">a</text>
<path d="M526.88 641.3V615" stroke="#404040" stroke-width="1.6" fill="none"/><path d="M523.48 615.3H530.27" stroke="#262626" stroke-width="1.2" fill="none"/>
<rect x="519.84" y="641.3" width="14.07" height="80" fill="#666666" stroke="#242424" stroke-width="1.45"/>
<text x="527.27" y="611.2" text-anchor="middle" font-size="9.5" fill="#1a1a1a" stroke="#1a1a1a" stroke-width="0.1">a</text>
<path d="M545.63 650.74V627.16" stroke="#404040" stroke-width="1.6" fill="none"/><path d="M542.24 627.46H549.03" stroke="#262626" stroke-width="1.2" fill="none"/>
<rect x="538.6" y="650.74" width="14.07" height="70.56" fill="#ffffff" stroke="#242424" stroke-width="1.45"/>
<text x="546.03" y="623.36" text-anchor="middle" font-size="9.5" fill="#1a1a1a" stroke="#1a1a1a" stroke-width="0.1">a</text>
<path d="M559.71 657.78V634.52" stroke="#404040" stroke-width="1.6" fill="none"/><path d="M556.31 634.82H563.11" stroke="#262626" stroke-width="1.2" fill="none"/>
<rect x="552.67" y="657.78" width="14.07" height="63.52" fill="#b3b3b3" stroke="#242424" stroke-width="1.45"/>
<text x="560.11" y="630.72" text-anchor="middle" font-size="9.5" fill="#1a1a1a" stroke="#1a1a1a" stroke-width="0.1">a</text>
<path d="M573.77 615.22V580.2" stroke="#404040" stroke-width="1.6" fill="none"/><path d="M570.38 580.5H577.17" stroke="#262626" stroke-width="1.2" fill="none"/>
<rect x="566.74" y="615.22" width="14.07" height="106.08" fill="#666666" stroke="#242424" stroke-width="1.45"/>
<text x="574.17" y="576.4" text-anchor="middle" font-size="9.5" fill="#1a1a1a" stroke="#1a1a1a" stroke-width="0.1">b</text>
<path d="M592.53 636.02V599.24" stroke="#404040" stroke-width="1.6" fill="none"/><path d="M589.13 599.54H595.93" stroke="#262626" stroke-width="1.2" fill="none"/>
<rect x="585.5" y="636.02" width="14.07" height="85.28" fill="#ffffff" stroke="#242424" stroke-width="1.45"/>
<text x="592.93" y="595.44" text-anchor="middle" font-size="9.5" fill="#1a1a1a" stroke="#1a1a1a" stroke-width="0.1">a</text>
<path d="M606.61 651.46V623.64" stroke="#404040" stroke-width="1.6" fill="none"/><path d="M603.21 623.94H610" stroke="#262626" stroke-width="1.2" fill="none"/>
<rect x="599.57" y="651.46" width="14.07" height="69.84" fill="#b3b3b3" stroke="#242424" stroke-width="1.45"/>
<text x="607" y="619.84" text-anchor="middle" font-size="9.5" fill="#1a1a1a" stroke="#1a1a1a" stroke-width="0.1">a</text>
<path d="M620.67 630.58V611.16" stroke="#404040" stroke-width="1.6" fill="none"/><path d="M617.27 611.46H624.07" stroke="#262626" stroke-width="1.2" fill="none"/>
<rect x="613.64" y="630.58" width="14.07" height="90.72" fill="#666666" stroke="#242424" stroke-width="1.45"/>
<text x="621.07" y="607.36" text-anchor="middle" font-size="9.5" fill="#1a1a1a" stroke="#1a1a1a" stroke-width="0.1">a</text>
<path d="M639.44 638.66V608.2" stroke="#404040" stroke-width="1.6" fill="none"/><path d="M636.04 608.5H642.84" stroke="#262626" stroke-width="1.2" fill="none"/>
<rect x="632.4" y="638.66" width="14.07" height="82.64" fill="#ffffff" stroke="#242424" stroke-width="1.45"/>
<text x="639.84" y="604.4" text-anchor="middle" font-size="9.5" fill="#1a1a1a" stroke="#1a1a1a" stroke-width="0.1">a</text>
<path d="M653.51 632.18V595.72" stroke="#404040" stroke-width="1.6" fill="none"/><path d="M650.11 596.02H656.91" stroke="#262626" stroke-width="1.2" fill="none"/>
<rect x="646.47" y="632.18" width="14.07" height="89.12" fill="#b3b3b3" stroke="#242424" stroke-width="1.45"/>
<text x="653.91" y="591.92" text-anchor="middle" font-size="9.5" fill="#1a1a1a" stroke="#1a1a1a" stroke-width="0.1">a</text>
<path d="M667.58 632.18V602.44" stroke="#404040" stroke-width="1.6" fill="none"/><path d="M664.18 602.74H670.98" stroke="#262626" stroke-width="1.2" fill="none"/>
<rect x="660.54" y="632.18" width="14.07" height="89.12" fill="#666666" stroke="#242424" stroke-width="1.45"/>
<text x="667.98" y="598.64" text-anchor="middle" font-size="9.5" fill="#1a1a1a" stroke="#1a1a1a" stroke-width="0.1">a</text>
<path d="M512.81 729.3V730.9" stroke="#222" stroke-width="0.7"/>
<text x="512.81" y="736.2" text-anchor="middle" font-size="5.4" font-weight="bold" fill="#111" stroke="#111" stroke-width="0.1">0</text>
<path d="M559.71 729.3V730.9" stroke="#222" stroke-width="0.7"/>
<text x="559.71" y="736.2" text-anchor="middle" font-size="5.4" font-weight="bold" fill="#111" stroke="#111" stroke-width="0.1">1</text>
<path d="M606.61 729.3V730.9" stroke="#222" stroke-width="0.7"/>
<text x="606.61" y="736.2" text-anchor="middle" font-size="5.4" font-weight="bold" fill="#111" stroke="#111" stroke-width="0.1">5</text>
<path d="M653.51 729.3V730.9" stroke="#222" stroke-width="0.7"/>
<text x="653.51" y="736.2" text-anchor="middle" font-size="5.4" font-weight="bold" fill="#111" stroke="#111" stroke-width="0.1">10</text>
<text x="583.6" y="743.3" text-anchor="middle" font-size="6.52" fill="#222" stroke="#222" stroke-width="0.12">concentration (mg/kg)</text>
<text x="520.3" y="759.7" font-size="6.36" fill="#222" stroke="#222" stroke-width="0.12">exposure_time</text>
<rect x="566.6" y="751.2" width="11.2" height="11.2" fill="#ffffff" stroke="#1c1c1c" stroke-width="1.3"/>
<text x="580.7" y="759.2" font-size="5.3" fill="#333" stroke="#333" stroke-width="0.08">7</text>
<rect x="586.6" y="751.2" width="11.2" height="11.2" fill="#b3b3b3" stroke="#1c1c1c" stroke-width="1.3"/>
<text x="601" y="759.2" font-size="5.3" fill="#333" stroke="#333" stroke-width="0.08">14</text>
<rect x="609.8" y="751.2" width="11.2" height="11.2" fill="#666666" stroke="#1c1c1c" stroke-width="1.3"/>
<text x="624" y="759.2" font-size="5.3" fill="#333" stroke="#333" stroke-width="0.08">28</text>
</g>
</svg>
</body></html>
